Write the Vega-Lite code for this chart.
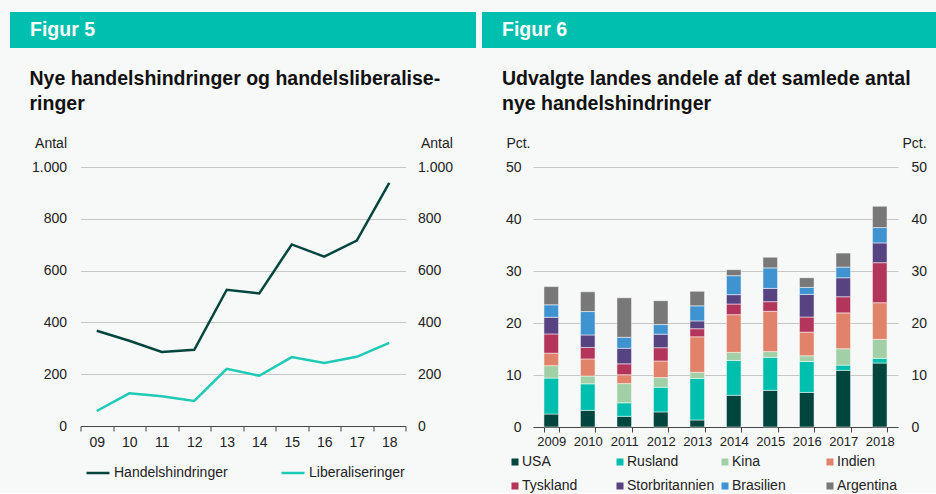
{
  "$schema": "https://vega.github.io/schema/vega-lite/v6.json",
  "background": "#f7f8f8",
  "padding": {"left": 10, "top": 12, "right": -13, "bottom": 0},
  "spacing": 6,
  "resolve": {"scale": {"color": "independent"}, "legend": {"color": "independent"}},
  "config": {
    "font": "Liberation Sans",
    "view": {"stroke": null},
    "axis": {"labelFont": "Liberation Sans", "titleFont": "Liberation Sans", "labelColor": "#222222", "titleColor": "#222222", "titleFontWeight": "normal", "titleFontSize": 14, "labelFontSize": 14},
    "title": {"font": "Liberation Sans"},
    "legend": {"labelFont": "Liberation Sans", "labelColor": "#222222", "labelFontSize": 14, "padding": 0}
  },
  "datasets": {
    "linjer": [
      {"aar": "09", "serie": "Handelshindringer", "antal": 368},
      {"aar": "10", "serie": "Handelshindringer", "antal": 329},
      {"aar": "11", "serie": "Handelshindringer", "antal": 286},
      {"aar": "12", "serie": "Handelshindringer", "antal": 294},
      {"aar": "13", "serie": "Handelshindringer", "antal": 526},
      {"aar": "14", "serie": "Handelshindringer", "antal": 512},
      {"aar": "15", "serie": "Handelshindringer", "antal": 701},
      {"aar": "16", "serie": "Handelshindringer", "antal": 654},
      {"aar": "17", "serie": "Handelshindringer", "antal": 716},
      {"aar": "18", "serie": "Handelshindringer", "antal": 939},
      {"aar": "09", "serie": "Liberaliseringer", "antal": 58},
      {"aar": "10", "serie": "Liberaliseringer", "antal": 126},
      {"aar": "11", "serie": "Liberaliseringer", "antal": 115},
      {"aar": "12", "serie": "Liberaliseringer", "antal": 97},
      {"aar": "13", "serie": "Liberaliseringer", "antal": 221},
      {"aar": "14", "serie": "Liberaliseringer", "antal": 194},
      {"aar": "15", "serie": "Liberaliseringer", "antal": 266},
      {"aar": "16", "serie": "Liberaliseringer", "antal": 243},
      {"aar": "17", "serie": "Liberaliseringer", "antal": 267},
      {"aar": "18", "serie": "Liberaliseringer", "antal": 321}
    ],
    "lande": [
      {"aar": "2009", "land": "USA", "o": 1, "andel": 2.5},
      {"aar": "2009", "land": "Rusland", "o": 2, "andel": 6.9},
      {"aar": "2009", "land": "Kina", "o": 3, "andel": 2.4},
      {"aar": "2009", "land": "Indien", "o": 4, "andel": 2.4},
      {"aar": "2009", "land": "Tyskland", "o": 5, "andel": 3.7},
      {"aar": "2009", "land": "Storbritannien", "o": 6, "andel": 3.2},
      {"aar": "2009", "land": "Brasilien", "o": 7, "andel": 2.4},
      {"aar": "2009", "land": "Argentina", "o": 8, "andel": 3.5},
      {"aar": "2010", "land": "USA", "o": 1, "andel": 3.2},
      {"aar": "2010", "land": "Rusland", "o": 2, "andel": 5.1},
      {"aar": "2010", "land": "Kina", "o": 3, "andel": 1.5},
      {"aar": "2010", "land": "Indien", "o": 4, "andel": 3.3},
      {"aar": "2010", "land": "Tyskland", "o": 5, "andel": 2.2},
      {"aar": "2010", "land": "Storbritannien", "o": 6, "andel": 2.4},
      {"aar": "2010", "land": "Brasilien", "o": 7, "andel": 4.5},
      {"aar": "2010", "land": "Argentina", "o": 8, "andel": 3.8},
      {"aar": "2011", "land": "USA", "o": 1, "andel": 2.05},
      {"aar": "2011", "land": "Rusland", "o": 2, "andel": 2.6},
      {"aar": "2011", "land": "Kina", "o": 3, "andel": 3.7},
      {"aar": "2011", "land": "Indien", "o": 4, "andel": 1.7},
      {"aar": "2011", "land": "Tyskland", "o": 5, "andel": 2.1},
      {"aar": "2011", "land": "Storbritannien", "o": 6, "andel": 3.0},
      {"aar": "2011", "land": "Brasilien", "o": 7, "andel": 2.1},
      {"aar": "2011", "land": "Argentina", "o": 8, "andel": 7.6},
      {"aar": "2012", "land": "USA", "o": 1, "andel": 2.9},
      {"aar": "2012", "land": "Rusland", "o": 2, "andel": 4.75},
      {"aar": "2012", "land": "Kina", "o": 3, "andel": 1.85},
      {"aar": "2012", "land": "Indien", "o": 4, "andel": 3.2},
      {"aar": "2012", "land": "Tyskland", "o": 5, "andel": 2.55},
      {"aar": "2012", "land": "Storbritannien", "o": 6, "andel": 2.6},
      {"aar": "2012", "land": "Brasilien", "o": 7, "andel": 1.85},
      {"aar": "2012", "land": "Argentina", "o": 8, "andel": 4.6},
      {"aar": "2013", "land": "USA", "o": 1, "andel": 1.35},
      {"aar": "2013", "land": "Rusland", "o": 2, "andel": 8.0},
      {"aar": "2013", "land": "Kina", "o": 3, "andel": 1.15},
      {"aar": "2013", "land": "Indien", "o": 4, "andel": 6.85},
      {"aar": "2013", "land": "Tyskland", "o": 5, "andel": 1.55},
      {"aar": "2013", "land": "Storbritannien", "o": 6, "andel": 1.5},
      {"aar": "2013", "land": "Brasilien", "o": 7, "andel": 2.9},
      {"aar": "2013", "land": "Argentina", "o": 8, "andel": 2.8},
      {"aar": "2014", "land": "USA", "o": 1, "andel": 6.1},
      {"aar": "2014", "land": "Rusland", "o": 2, "andel": 6.7},
      {"aar": "2014", "land": "Kina", "o": 3, "andel": 1.55},
      {"aar": "2014", "land": "Indien", "o": 4, "andel": 7.25},
      {"aar": "2014", "land": "Tyskland", "o": 5, "andel": 2.05},
      {"aar": "2014", "land": "Storbritannien", "o": 6, "andel": 1.8},
      {"aar": "2014", "land": "Brasilien", "o": 7, "andel": 3.65},
      {"aar": "2014", "land": "Argentina", "o": 8, "andel": 1.15},
      {"aar": "2015", "land": "USA", "o": 1, "andel": 7.05},
      {"aar": "2015", "land": "Rusland", "o": 2, "andel": 6.35},
      {"aar": "2015", "land": "Kina", "o": 3, "andel": 1.1},
      {"aar": "2015", "land": "Indien", "o": 4, "andel": 7.75},
      {"aar": "2015", "land": "Tyskland", "o": 5, "andel": 1.85},
      {"aar": "2015", "land": "Storbritannien", "o": 6, "andel": 2.55},
      {"aar": "2015", "land": "Brasilien", "o": 7, "andel": 3.95},
      {"aar": "2015", "land": "Argentina", "o": 8, "andel": 2.05},
      {"aar": "2016", "land": "USA", "o": 1, "andel": 6.65},
      {"aar": "2016", "land": "Rusland", "o": 2, "andel": 5.95},
      {"aar": "2016", "land": "Kina", "o": 3, "andel": 1.1},
      {"aar": "2016", "land": "Indien", "o": 4, "andel": 4.55},
      {"aar": "2016", "land": "Tyskland", "o": 5, "andel": 2.9},
      {"aar": "2016", "land": "Storbritannien", "o": 6, "andel": 4.35},
      {"aar": "2016", "land": "Brasilien", "o": 7, "andel": 1.35},
      {"aar": "2016", "land": "Argentina", "o": 8, "andel": 1.85},
      {"aar": "2017", "land": "USA", "o": 1, "andel": 10.9},
      {"aar": "2017", "land": "Rusland", "o": 2, "andel": 1.0},
      {"aar": "2017", "land": "Kina", "o": 3, "andel": 3.15},
      {"aar": "2017", "land": "Indien", "o": 4, "andel": 6.9},
      {"aar": "2017", "land": "Tyskland", "o": 5, "andel": 3.1},
      {"aar": "2017", "land": "Storbritannien", "o": 6, "andel": 3.65},
      {"aar": "2017", "land": "Brasilien", "o": 7, "andel": 2.05},
      {"aar": "2017", "land": "Argentina", "o": 8, "andel": 2.7},
      {"aar": "2018", "land": "USA", "o": 1, "andel": 12.3},
      {"aar": "2018", "land": "Rusland", "o": 2, "andel": 0.9},
      {"aar": "2018", "land": "Kina", "o": 3, "andel": 3.65},
      {"aar": "2018", "land": "Indien", "o": 4, "andel": 7.05},
      {"aar": "2018", "land": "Tyskland", "o": 5, "andel": 7.7},
      {"aar": "2018", "land": "Storbritannien", "o": 6, "andel": 3.8},
      {"aar": "2018", "land": "Brasilien", "o": 7, "andel": 2.95},
      {"aar": "2018", "land": "Argentina", "o": 8, "andel": 4.1}
    ]
  },
  "hconcat": [
    {
      "spacing": 119,
      "bounds": "flush",
      "center": true,
      "vconcat": [
        {
          "width": 466,
          "height": 36,
          "view": {"fill": "#00bfae", "stroke": null},
          "data": {"values": [{"label": "Figur 5"}]},
          "mark": {"type": "text", "align": "left", "baseline": "middle", "dx": 20, "color": "white", "fontSize": 19.5, "fontWeight": "bold"},
          "encoding": {
            "text": {"field": "label"},
            "x": {"datum": 0, "type": "quantitative", "scale": {"domain": [0, 1]}, "axis": null}
          }
        },
        {
          "width": 325,
          "height": 259,
          "title": {"text": ["Nye handelshindringer og handelsliberalise-", "ringer"], "anchor": "start", "frame": "group", "dx": -51, "fontSize": 19.5, "fontWeight": "bold", "color": "#111111", "lineHeight": 25, "offset": 22},
          "data": {"name": "linjer"},
          "layer": [
            {
              "mark": {"type": "line", "strokeOpacity": 0},
              "encoding": {
                "x": {"field": "aar", "type": "ordinal", "scale": {"type": "band", "paddingInner": 0, "paddingOuter": 0}, "axis": {"title": null, "labelAngle": 0, "tickBand": "extent", "domainColor": "#444444", "tickColor": "#444444", "tickSize": 5, "labelPadding": 4, "grid": false}},
                "y": {"field": "antal", "type": "quantitative", "scale": {"domain": [0, 1000]}, "axis": {"orient": "right", "values": [0, 200, 400, 600, 800, 1000], "grid": false, "domain": false, "ticks": false, "labelPadding": 12, "labelExpr": "replace(format(datum.value, ','), ',', '.')", "title": "Antal", "titleAngle": 0, "titleAlign": "left", "titleX": 15, "titleY": -20, "titleBaseline": "alphabetic"}},
                "detail": {"field": "serie"}
              }
            },
            {
              "mark": {"type": "line", "strokeWidth": 2.5},
              "encoding": {
                "x": {"field": "aar", "type": "ordinal", "scale": {"type": "band", "paddingInner": 0, "paddingOuter": 0}, "axis": {"title": null, "labelAngle": 0, "tickBand": "extent", "domainColor": "#444444", "tickColor": "#444444", "tickSize": 5, "labelPadding": 4, "grid": false}},
                "y": {"field": "antal", "type": "quantitative", "scale": {"domain": [0, 1000]}, "axis": {"orient": "left", "values": [0, 200, 400, 600, 800, 1000], "grid": true, "gridColor": "#c6c6c6", "gridWidth": 1.2, "domain": false, "ticks": false, "labelPadding": 14, "labelExpr": "replace(format(datum.value, ','), ',', '.')", "title": "Antal", "titleAngle": 0, "titleAlign": "right", "titleX": -14, "titleY": -20, "titleBaseline": "alphabetic"}},
                "color": {"field": "serie", "type": "nominal", "scale": {"domain": ["Handelshindringer", "Liberaliseringer"], "range": ["#00463f", "#1ec9b5"]}, "legend": {"title": null, "orient": "none", "legendX": 75, "legendY": 448, "direction": "horizontal", "columns": 2, "columnPadding": 48, "symbolType": "stroke", "symbolSize": 529, "symbolStrokeWidth": 2.5, "labelOffset": 3}}
              }
            }
          ],
          "resolve": {"axis": {"y": "independent"}}
        }
      ]
    },
    {
      "spacing": 119,
      "bounds": "flush",
      "center": true,
      "vconcat": [
        {
          "width": 467,
          "height": 36,
          "view": {"fill": "#00bfae", "stroke": null},
          "data": {"values": [{"label": "Figur 6"}]},
          "mark": {"type": "text", "align": "left", "baseline": "middle", "dx": 20, "color": "white", "fontSize": 19.5, "fontWeight": "bold"},
          "encoding": {
            "text": {"field": "label"},
            "x": {"datum": 0, "type": "quantitative", "scale": {"domain": [0, 1]}, "axis": null}
          }
        },
        {
          "width": 365,
          "height": 260,
          "title": {"text": ["Udvalgte landes andele af det samlede antal", "nye handelshindringer"], "anchor": "start", "frame": "group", "dx": -31, "fontSize": 19.5, "fontWeight": "bold", "color": "#111111", "lineHeight": 25, "offset": 22},
          "data": {"name": "lande"},
          "layer": [
            {
              "mark": {"type": "point", "opacity": 0},
              "encoding": {
                "x": {"field": "aar", "type": "ordinal", "scale": {"type": "band", "paddingInner": 0.6, "paddingOuter": 0.3}, "axis": {"title": null, "labelAngle": 0, "tickBand": "extent", "domainColor": "#444444", "tickColor": "#444444", "tickSize": 5, "labelPadding": 3, "labelFontSize": 13, "grid": false}},
                "y": {"field": "andel", "type": "quantitative", "scale": {"domain": [0, 50]}, "axis": {"orient": "right", "values": [0, 10, 20, 30, 40, 50], "grid": false, "domain": false, "ticks": false, "labelPadding": 13, "title": "Pct.", "titleAngle": 0, "titleAlign": "left", "titleX": 4, "titleY": -20, "titleBaseline": "alphabetic"}}
              }
            },
            {
              "mark": {"type": "bar", "stroke": "#ffffff", "strokeWidth": 0.5},
              "encoding": {
                "x": {"field": "aar", "type": "ordinal", "scale": {"type": "band", "paddingInner": 0.6, "paddingOuter": 0.3}, "axis": {"title": null, "labelAngle": 0, "tickBand": "extent", "domainColor": "#444444", "tickColor": "#444444", "tickSize": 5, "labelPadding": 3, "labelFontSize": 13, "grid": false}},
                "y": {"field": "andel", "type": "quantitative", "stack": "zero", "scale": {"domain": [0, 50]}, "axis": {"orient": "left", "values": [0, 10, 20, 30, 40, 50], "grid": true, "gridColor": "#c6c6c6", "gridWidth": 1.2, "domain": false, "ticks": false, "labelPadding": 12, "title": "Pct.", "titleAngle": 0, "titleAlign": "right", "titleX": -3, "titleY": -20, "titleBaseline": "alphabetic"}},
                "order": {"field": "o", "type": "quantitative", "sort": "ascending"},
                "color": {"field": "land", "type": "nominal", "scale": {"domain": ["USA", "Rusland", "Kina", "Indien", "Tyskland", "Storbritannien", "Brasilien", "Argentina"], "range": ["#00453e", "#00bfae", "#a2d0a6", "#e0836a", "#b3355b", "#574381", "#3e93d0", "#797878"]}, "legend": {"title": null, "orient": "none", "legendX": 26, "legendY": 443, "direction": "horizontal", "columns": 4, "gridAlign": "all", "columnPadding": 3, "rowPadding": 10, "symbolType": "square", "symbolSize": 49, "symbolStrokeWidth": 0, "labelOffset": 0}}
              }
            }
          ],
          "resolve": {"axis": {"y": "independent"}}
        }
      ]
    }
  ]
}
